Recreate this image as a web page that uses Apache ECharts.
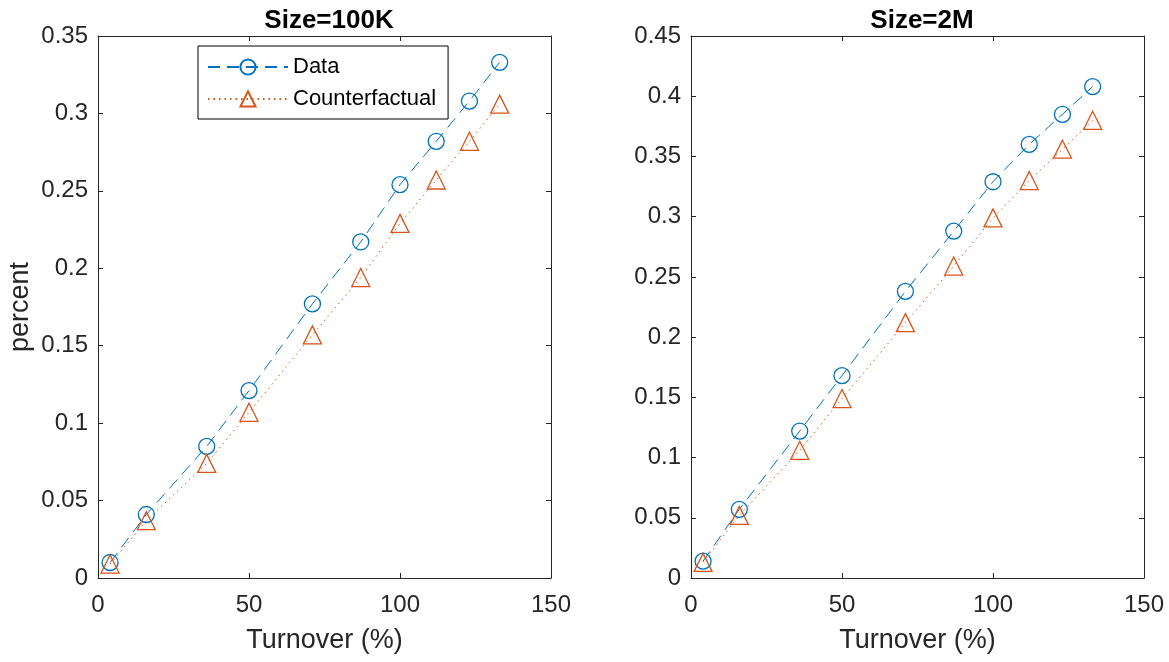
<!DOCTYPE html>
<html>
<head>
<meta charset="utf-8">
<script src="https://cdn.jsdelivr.net/npm/echarts@6/dist/echarts.min.js"></script>
<style>
html,body{margin:0;padding:0;background:#fff;}
#c{width:1169px;height:662px;}
</style>
</head>
<body>
<div id="c"></div>
<script>
const turnover = [4, 16, 36, 50, 71, 87, 100, 112, 123, 133];
const data100K = [0.010, 0.041, 0.085, 0.121, 0.177, 0.217, 0.254, 0.282, 0.308, 0.333];
const cf100K   = [0.009, 0.037, 0.074, 0.107, 0.157, 0.194, 0.229, 0.257, 0.282, 0.306];
const data2M   = [0.014, 0.057, 0.122, 0.168, 0.238, 0.288, 0.329, 0.360, 0.385, 0.408];
const cf2M     = [0.013, 0.052, 0.106, 0.149, 0.212, 0.259, 0.299, 0.330, 0.356, 0.380];
const titles = ['Size=100K', 'Size=2M'];
const xTicks = [0, 150, 50];
const yMax = [0.35, 0.45];

const BLUE = '#0072BD', ORANGE = '#D95319', AX = '#262626';
const FONT = 'Liberation Sans, Arial, Helvetica, sans-serif';

function pairs(xs, ys){ return xs.map((x,i)=>[x, ys[i]]); }

const grids = [
  {left: 98, right: 618, top: 36, bottom: 84},
  {left: 691, right: 25, top: 36, bottom: 84}
];

function fmt(v){ return v === 0 ? '0' : String(+v.toFixed(2)); }

const xAxes = [], yAxes = [];
[0,1].forEach(g => {
  xAxes.push({
    type: 'value', gridIndex: g, min: xTicks[0], max: xTicks[1], interval: xTicks[2],
    position: 'bottom',
    name: 'Turnover (%)', nameLocation: 'middle', nameGap: 49,
    nameTextStyle: {fontFamily: FONT, fontSize: 27, color: AX},
    axisLine: {show: true, onZero: false, lineStyle: {color: AX, width: 1}},
    axisTick: {show: true, inside: true, length: 5, lineStyle: {color: AX}},
    axisLabel: {fontFamily: FONT, fontSize: 24, color: AX, margin: 15},
    splitLine: {show: false}
  });
  xAxes.push({
    type: 'value', gridIndex: g, min: xTicks[0], max: xTicks[1], interval: xTicks[2],
    position: 'top',
    axisLine: {show: true, onZero: false, lineStyle: {color: AX, width: 1}},
    axisTick: {show: true, inside: true, length: 5, lineStyle: {color: AX}},
    axisLabel: {show: false}, splitLine: {show: false}
  });
  yAxes.push({
    type: 'value', gridIndex: g, min: 0, max: yMax[g], interval: 0.05,
    position: 'left',
    name: g === 0 ? 'percent' : '', nameLocation: 'middle', nameGap: 64,
    nameTextStyle: {fontFamily: FONT, fontSize: 27, color: AX},
    axisLine: {show: true, onZero: false, lineStyle: {color: AX, width: 1}},
    axisTick: {show: true, inside: true, length: 5, lineStyle: {color: AX}},
    axisLabel: {fontFamily: FONT, fontSize: 24, color: AX, margin: 10, formatter: fmt},
    splitLine: {show: false}
  });
  yAxes.push({
    type: 'value', gridIndex: g, min: 0, max: yMax[g], interval: 0.05,
    position: 'right',
    axisLine: {show: true, onZero: false, lineStyle: {color: AX, width: 1}},
    axisTick: {show: true, inside: true, length: 5, lineStyle: {color: AX}},
    axisLabel: {show: false}, splitLine: {show: false}
  });
});

function lineSeries(name, g, ys, color, symbol, size, dash){
  return {
    name: name, type: 'line', xAxisIndex: g*2, yAxisIndex: g*2,
    data: pairs(turnover, ys),
    symbol: symbol, symbolSize: size, showSymbol: true,
    lineStyle: {color: color, width: 1, type: dash},
    itemStyle: {color: 'rgba(255,255,255,0)', borderColor: color, borderWidth: 1.3},
    animation: false, z: 3
  };
}

const option = {
  animation: false,
  backgroundColor: '#fff',
  title: [
    {text: titles[0], left: 324, top: 3, textAlign: 'center',
     textStyle: {fontFamily: FONT, fontSize: 26, fontWeight: 'bold', color: '#000'}},
    {text: titles[1], left: 917, top: 3, textAlign: 'center',
     textStyle: {fontFamily: FONT, fontSize: 26, fontWeight: 'bold', color: '#000'}}
  ],
  grid: grids,
  xAxis: xAxes,
  yAxis: yAxes,
  legend: {
    data: ['Data', 'Counterfactual'],
    left: 198, top: 46, orient: 'vertical',
    itemWidth: 80, itemHeight: 19, itemGap: 10,
    padding: [10, 12, 9, 9],
    borderColor: '#000', borderWidth: 1, backgroundColor: '#fff',
    textStyle: {fontFamily: FONT, fontSize: 22, color: '#000'}
  },
  series: [
    lineSeries('Data', 0, data100K, BLUE, 'circle', 16, [12, 7]),
    lineSeries('Counterfactual', 0, cf100K, ORANGE, 'triangle', 18, [1.5, 4]),
    lineSeries('Data', 1, data2M, BLUE, 'circle', 16, [12, 7]),
    lineSeries('Counterfactual', 1, cf2M, ORANGE, 'triangle', 18, [1.5, 4])
  ]
};

const chart = echarts.init(document.getElementById('c'), null, {renderer: 'canvas'});
chart.setOption(option);
</script>
</body>
</html>
